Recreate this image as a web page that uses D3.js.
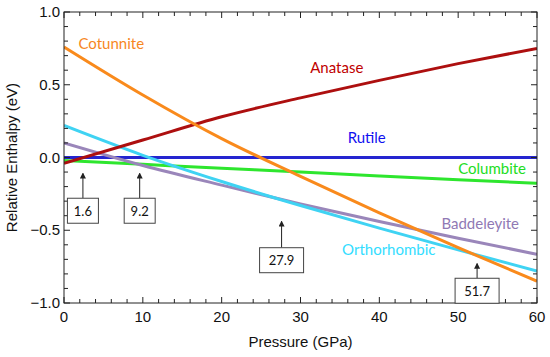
<!DOCTYPE html>
<html lang="en">
<head>
    <meta charset="UTF-8">
    <title>Relative Enthalpy vs Pressure</title>
    <script src="https://d3js.org/d3.v7.min.js"></script>
    <style>
        body { margin: 0; background: #fff; }
        .tick-label { font-family: "Liberation Sans", Arial, sans-serif; font-size: 15px; fill: #111; }
        .axis-title { font-family: "Liberation Sans", Arial, sans-serif; font-size: 15px; fill: #111; }
        .phase-label { font-family: Lato, "Open Sans", sans-serif; font-size: 15px; }
        .note { font-family: Lato, "Open Sans", sans-serif; font-size: 13px; fill: #111; }
    </style>
</head>
<body>
    <svg width="550" height="357"></svg>

    <script>
        // Pressure grid (GPa) and relative enthalpies (eV) per phase
        const pressure = [0, 10, 20, 30, 40, 50, 60];
        const rutile = [0, 0, 0, 0, 0, 0, 0];
        const anatase = [-0.04, 0.12, 0.28, 0.41, 0.53, 0.645, 0.75];
        const cotunnite = [0.76, 0.43, 0.13, -0.13, -0.38, -0.62, -0.85];
        const columbite = [-0.02, -0.047, -0.074, -0.10, -0.127, -0.153, -0.177];
        const orthorhombic = [0.22, 0.015, -0.165, -0.33, -0.485, -0.635, -0.78];
        const baddeleyite = [0.10, -0.055, -0.19, -0.32, -0.44, -0.555, -0.665];

        // transition annotations: label, arrow pressure, arrow tip energy
        const noteLabels = ["1.6", "9.2", "27.9", "51.7"];
        const notePressure = [2.4, 9.6, 27.6, 52.4];
        const noteTip = [-0.11, -0.11, -0.44, -0.73];
        const noteBoxTop = [-0.28, -0.28, -0.62, -0.83];

        const xTicks = [0, 10, 20, 30, 40, 50, 60];
        const yTicks = [-1.0, -0.5, 0.0, 0.5, 1.0];

        const series = [
            { name: "Cotunnite", values: cotunnite, color: "#f98a1c", text: "#f7871f", lx: 6, ly: 0.745 },
            { name: "Anatase", values: anatase, color: "#ad0f0f", text: "#c00000", lx: 34.6, ly: 0.58 },
            { name: "Rutile", values: rutile, color: "#2525d0", text: "#1010f0", lx: 38.4, ly: 0.10 },
            { name: "Columbite", values: columbite, color: "#2ee62e", text: "#22dd22", lx: 54.3, ly: -0.11 },
            { name: "Baddeleyite", values: baddeleyite, color: "#9a86ba", text: "#9079b4", lx: 52.8, ly: -0.49 },
            { name: "Orthorhombic", values: orthorhombic, color: "#3fd3f3", text: "#33ddff", lx: 41.2, ly: -0.67 }
        ];

        const svg = d3.select("svg");
        const margin = { left: 64, right: 13, top: 12, bottom: 54 };
        const width = +svg.attr("width");
        const height = +svg.attr("height");

        const x = d3.scaleLinear().domain([0, 60]).range([margin.left, width - margin.right]);
        const y = d3.scaleLinear().domain([-1, 1]).range([height - margin.bottom, margin.top]);

        svg.append("clipPath").attr("id", "plot")
            .append("rect")
            .attr("x", x(0)).attr("y", y(1))
            .attr("width", x(60) - x(0)).attr("height", y(-1) - y(1));

        // Lines
        const line = d3.line()
            .x((d, i) => x(pressure[i]))
            .y(d => y(d))
            .curve(d3.curveMonotoneX);

        const lines = svg.append("g").attr("clip-path", "url(#plot)");
        // draw so the order matches the figure stacking
        const drawOrder = ["Columbite", "Rutile", "Baddeleyite", "Orthorhombic", "Anatase", "Cotunnite"];
        drawOrder.forEach(n => {
            const s = series.find(d => d.name === n);
            lines.append("path")
                .attr("d", line(s.values))
                .attr("fill", "none")
                .attr("stroke", s.color)
                .attr("stroke-width", 3);
        });

        // Frame and ticks
        const axisG = svg.append("g");
        axisG.append("rect")
            .attr("x", x(0)).attr("y", y(1))
            .attr("width", x(60) - x(0)).attr("height", y(-1) - y(1))
            .attr("fill", "none").attr("stroke", "#222").attr("stroke-width", 1);

        d3.range(0, 61, 2).forEach(p => {
            const len = p % 10 === 0 ? 6 : 4;
            axisG.append("line").attr("x1", x(p)).attr("x2", x(p))
                .attr("y1", y(-1)).attr("y2", y(-1) - len).attr("stroke", "#222");
            axisG.append("line").attr("x1", x(p)).attr("x2", x(p))
                .attr("y1", y(1)).attr("y2", y(1) + len).attr("stroke", "#222");
        });
        d3.range(-10, 11, 1).forEach(k => {
            const v = k / 10;
            const len = k % 5 === 0 ? 6 : 4;
            axisG.append("line").attr("x1", x(0)).attr("x2", x(0) + len)
                .attr("y1", y(v)).attr("y2", y(v)).attr("stroke", "#222");
            axisG.append("line").attr("x1", x(60)).attr("x2", x(60) - len)
                .attr("y1", y(v)).attr("y2", y(v)).attr("stroke", "#222");
        });

        axisG.selectAll(".xl").data(xTicks).enter().append("text")
            .attr("class", "tick-label")
            .attr("x", d => x(d)).attr("y", y(-1) + 19)
            .attr("text-anchor", "middle")
            .text(d => d);

        axisG.selectAll(".yl").data(yTicks).enter().append("text")
            .attr("class", "tick-label")
            .attr("x", x(0) - 4).attr("y", d => y(d) + 5)
            .attr("text-anchor", "end")
            .text(d => d3.format(".1f")(d).replace("-", "\u2212"));

        svg.append("text").attr("class", "axis-title")
            .attr("x", (x(0) + x(60)) / 2).attr("y", 347)
            .attr("text-anchor", "middle")
            .text("Pressure (GPa)");

        svg.append("text").attr("class", "axis-title")
            .attr("transform", `translate(17, ${y(0)}) rotate(-90)`)
            .attr("text-anchor", "middle")
            .text("Relative Enthalpy (eV)");

        // Phase labels
        svg.selectAll(".phase-label").data(series).enter().append("text")
            .attr("class", "phase-label")
            .attr("x", d => x(d.lx)).attr("y", d => y(d.ly))
            .attr("text-anchor", "middle")
            .attr("fill", d => d.text)
            .text(d => d.name);

        // Annotations
        svg.append("defs").append("marker")
            .attr("id", "arrow").attr("viewBox", "0 0 6 6")
            .attr("refX", 5).attr("refY", 3)
            .attr("markerWidth", 6).attr("markerHeight", 6)
            .attr("orient", "auto")
            .append("path").attr("d", "M0,0 L6,3 L0,6 Z").attr("fill", "#222");

        const notes = svg.append("g");
        noteLabels.forEach((lab, i) => {
            const cx = x(notePressure[i]);
            const top = y(noteBoxTop[i]);
            const w = lab.length > 3 ? 44 : 31;
            const h = 25;
            notes.append("line")
                .attr("x1", cx).attr("x2", cx)
                .attr("y1", top).attr("y2", y(noteTip[i]))
                .attr("stroke", "#222").attr("stroke-width", 1)
                .attr("marker-end", "url(#arrow)");
            notes.append("rect")
                .attr("x", cx - w / 2).attr("y", top)
                .attr("width", w).attr("height", h)
                .attr("fill", "#fff").attr("stroke", "#444").attr("stroke-width", 1);
            notes.append("text").attr("class", "note")
                .attr("x", cx).attr("y", top + h / 2 + 5)
                .attr("text-anchor", "middle")
                .text(lab);
        });
    </script>
</body>
</html>
